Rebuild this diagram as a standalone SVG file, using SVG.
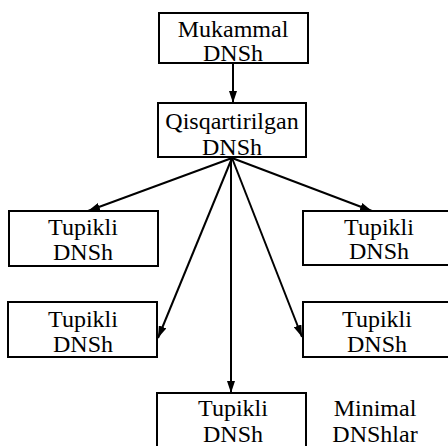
<svg xmlns="http://www.w3.org/2000/svg" width="448" height="446" viewBox="0 0 448 446">
<defs>
<marker id="ah" viewBox="0 0 12 8" refX="12" refY="4" markerWidth="12" markerHeight="8" markerUnits="userSpaceOnUse" orient="auto">
<path d="M0,0 L12,4 L0,8 Z" fill="#000"/>
</marker>
<style>
.box{fill:none;stroke:#000;stroke-width:2}
.t{font-family:"Liberation Serif","Times New Roman",serif;font-size:24px;fill:#000;text-anchor:middle}
.c{fill:none;stroke:#000;stroke-width:2;marker-end:url(#ah)}
</style>
</defs>
<rect width="448" height="446" fill="#fff"/>
<g id="n1">
<rect class="box" x="159" y="13" width="149" height="50"/>
<text class="t" x="233" y="37">Mukammal</text>
<text class="t" x="233" y="61">DNSh</text>
</g>
<g id="n2">
<rect class="box" x="158" y="103" width="148" height="54"/>
<text class="t" x="232" y="129">Qisqartirilgan</text>
<text class="t" x="232" y="155">DNSh</text>
</g>
<g id="n3">
<rect class="box" x="9" y="211" width="149" height="55"/>
<text class="t" x="83" y="235">Tupikli</text>
<text class="t" x="83" y="260">DNSh</text>
</g>
<g id="n4">
<path class="box" d="M450,211 H303 V265 H450"/>
<text class="t" x="379" y="235">Tupikli</text>
<text class="t" x="379" y="259">DNSh</text>
</g>
<g id="n5">
<rect class="box" x="8" y="302" width="149" height="55"/>
<text class="t" x="83" y="327">Tupikli</text>
<text class="t" x="83" y="352">DNSh</text>
</g>
<g id="n6">
<path class="box" d="M450,302 H303 V357 H450"/>
<text class="t" x="377" y="327">Tupikli</text>
<text class="t" x="377" y="352">DNSh</text>
</g>
<g id="n7">
<path class="box" d="M157,450 V393 H306 V450"/>
<text class="t" x="233" y="416">Tupikli</text>
<text class="t" x="233" y="442">DNSh</text>
</g>
<g id="n8">
<text class="t" x="375" y="416">Minimal</text>
<text class="t" x="375" y="442">DNShlar</text>
</g>
<g id="connectors">
<line class="c" x1="233" y1="63" x2="233" y2="103"/>
<line class="c" x1="232" y1="158" x2="88" y2="211"/>
<line class="c" x1="232" y1="158" x2="372" y2="211"/>
<line class="c" x1="232" y1="158" x2="158" y2="338"/>
<line class="c" x1="232" y1="158" x2="302" y2="337"/>
<line class="c" x1="231" y1="158" x2="231" y2="393"/>
</g>
</svg>
